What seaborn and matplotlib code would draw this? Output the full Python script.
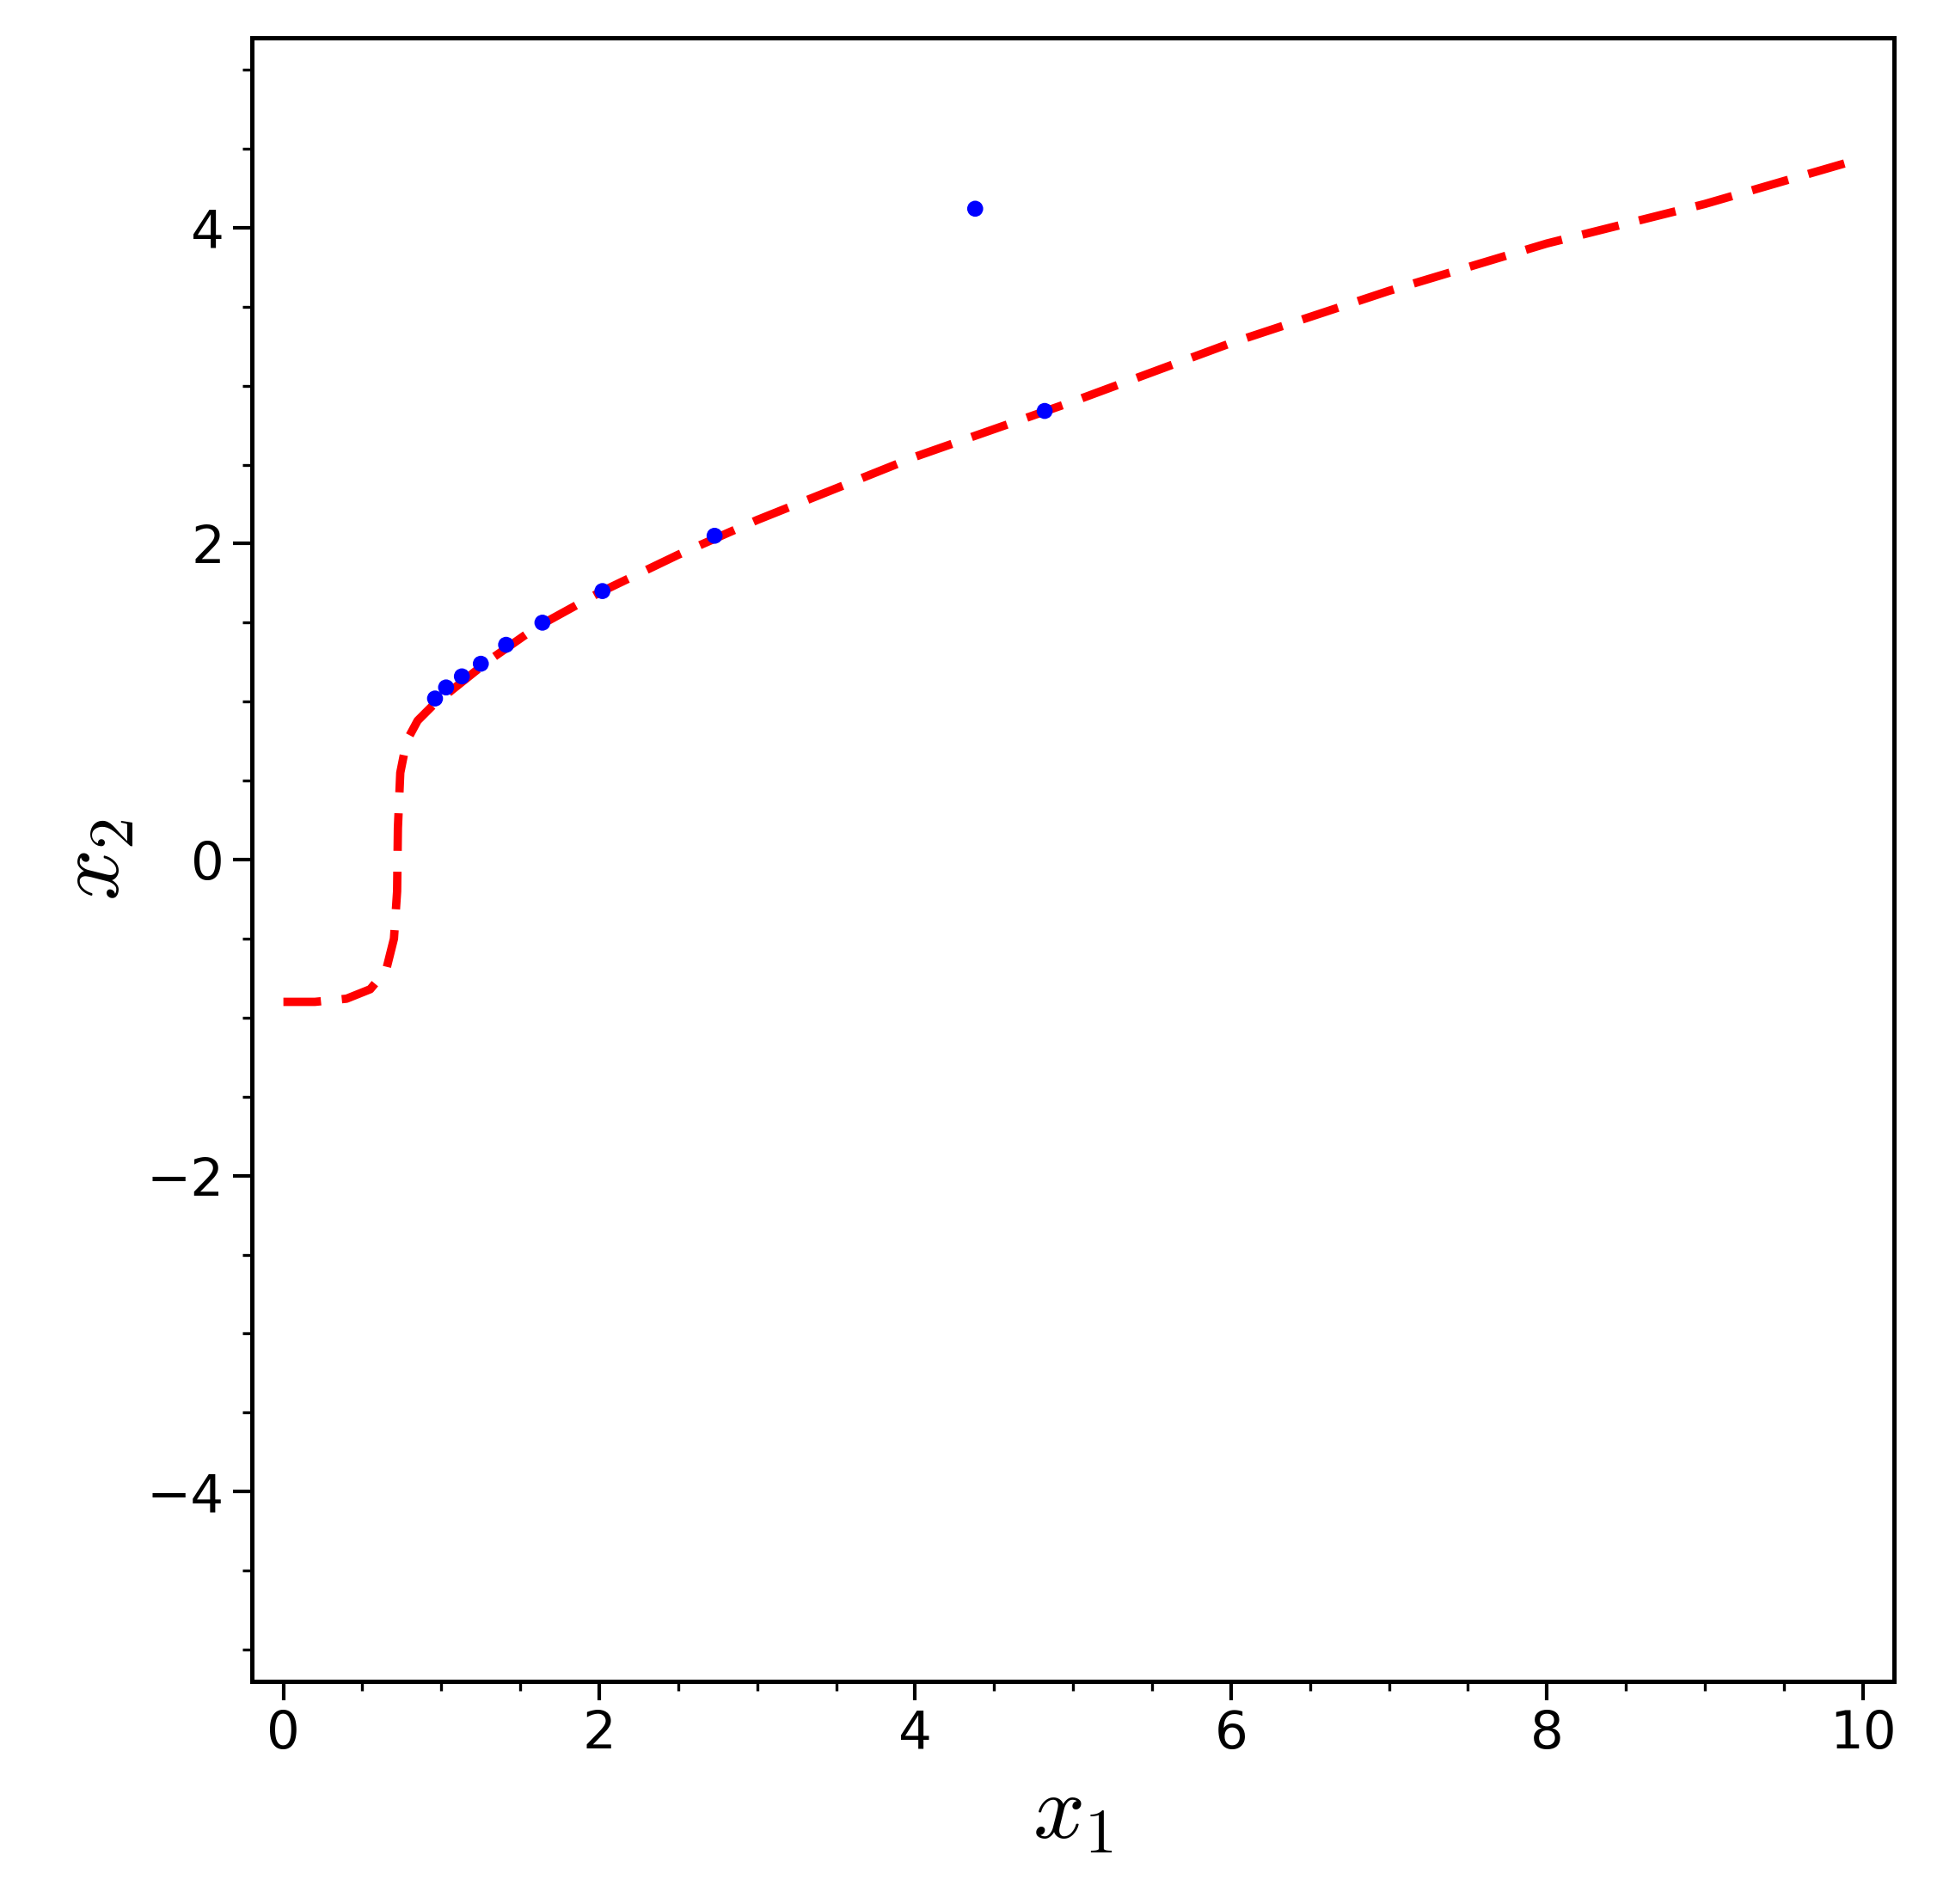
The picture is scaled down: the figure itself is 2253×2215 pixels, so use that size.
import matplotlib
matplotlib.use("Agg")
import matplotlib.pyplot as plt
import seaborn as sns
from matplotlib.ticker import MultipleLocator

curve_x = [0, 0.2, 0.4, 0.55, 0.65, 0.7, 0.72, 0.725, 0.74, 0.78, 0.85, 0.95, 1.1, 1.3, 1.6, 2.0, 2.5, 3, 4, 5, 6, 7, 8, 9, 10]
curve_y = [-0.9, -0.9, -0.88, -0.82, -0.7, -0.5, -0.2, 0.2, 0.55, 0.75, 0.88, 0.98, 1.1, 1.26, 1.47, 1.69, 1.93, 2.15, 2.55, 2.9, 3.27, 3.6, 3.9, 4.15, 4.44]
pts_x = [0.96, 1.03, 1.13, 1.25, 1.41, 1.64, 2.02, 2.73, 4.38, 4.82]
pts_y = [1.02, 1.09, 1.16, 1.24, 1.36, 1.5, 1.70, 2.05, 4.12, 2.84]

sns.set_style("white")
plt.rcParams["mathtext.fontset"] = "cm"
plt.rcParams["text.color"] = "black"
plt.rcParams["xtick.color"] = "black"
plt.rcParams["ytick.color"] = "black"
fig = plt.figure(figsize=(11.265, 11.075), dpi=200)
ax = fig.add_axes([0.13, 0.117, 0.848, 0.863])
sns.lineplot(x=curve_x, y=curve_y, ax=ax, color="red", linestyle=(0, (4.5, 2.5)), linewidth=3.5, sort=False)
sns.scatterplot(x=pts_x, y=pts_y, ax=ax, color="blue", s=45, edgecolor="none", zorder=3)
ax.set_xlim(-0.2, 10.2)
ax.set_ylim(-5.2, 5.2)
ax.xaxis.set_major_locator(MultipleLocator(2))
ax.yaxis.set_major_locator(MultipleLocator(2))
ax.xaxis.set_minor_locator(MultipleLocator(0.5))
ax.yaxis.set_minor_locator(MultipleLocator(0.5))
ax.tick_params(which="major", direction="out", length=8, width=1.5, labelsize=22, bottom=True, left=True, colors="black")
ax.tick_params(which="minor", direction="out", length=4, width=1.2, bottom=True, left=True)
for s in ax.spines.values():
    s.set_color("black"); s.set_linewidth(1.8)
ax.set_xlabel(r"$x_1$", fontsize=38, color="black")
ax.set_ylabel(r"$x_2$", fontsize=38, color="black")
fig.savefig("out.png", dpi=200)
